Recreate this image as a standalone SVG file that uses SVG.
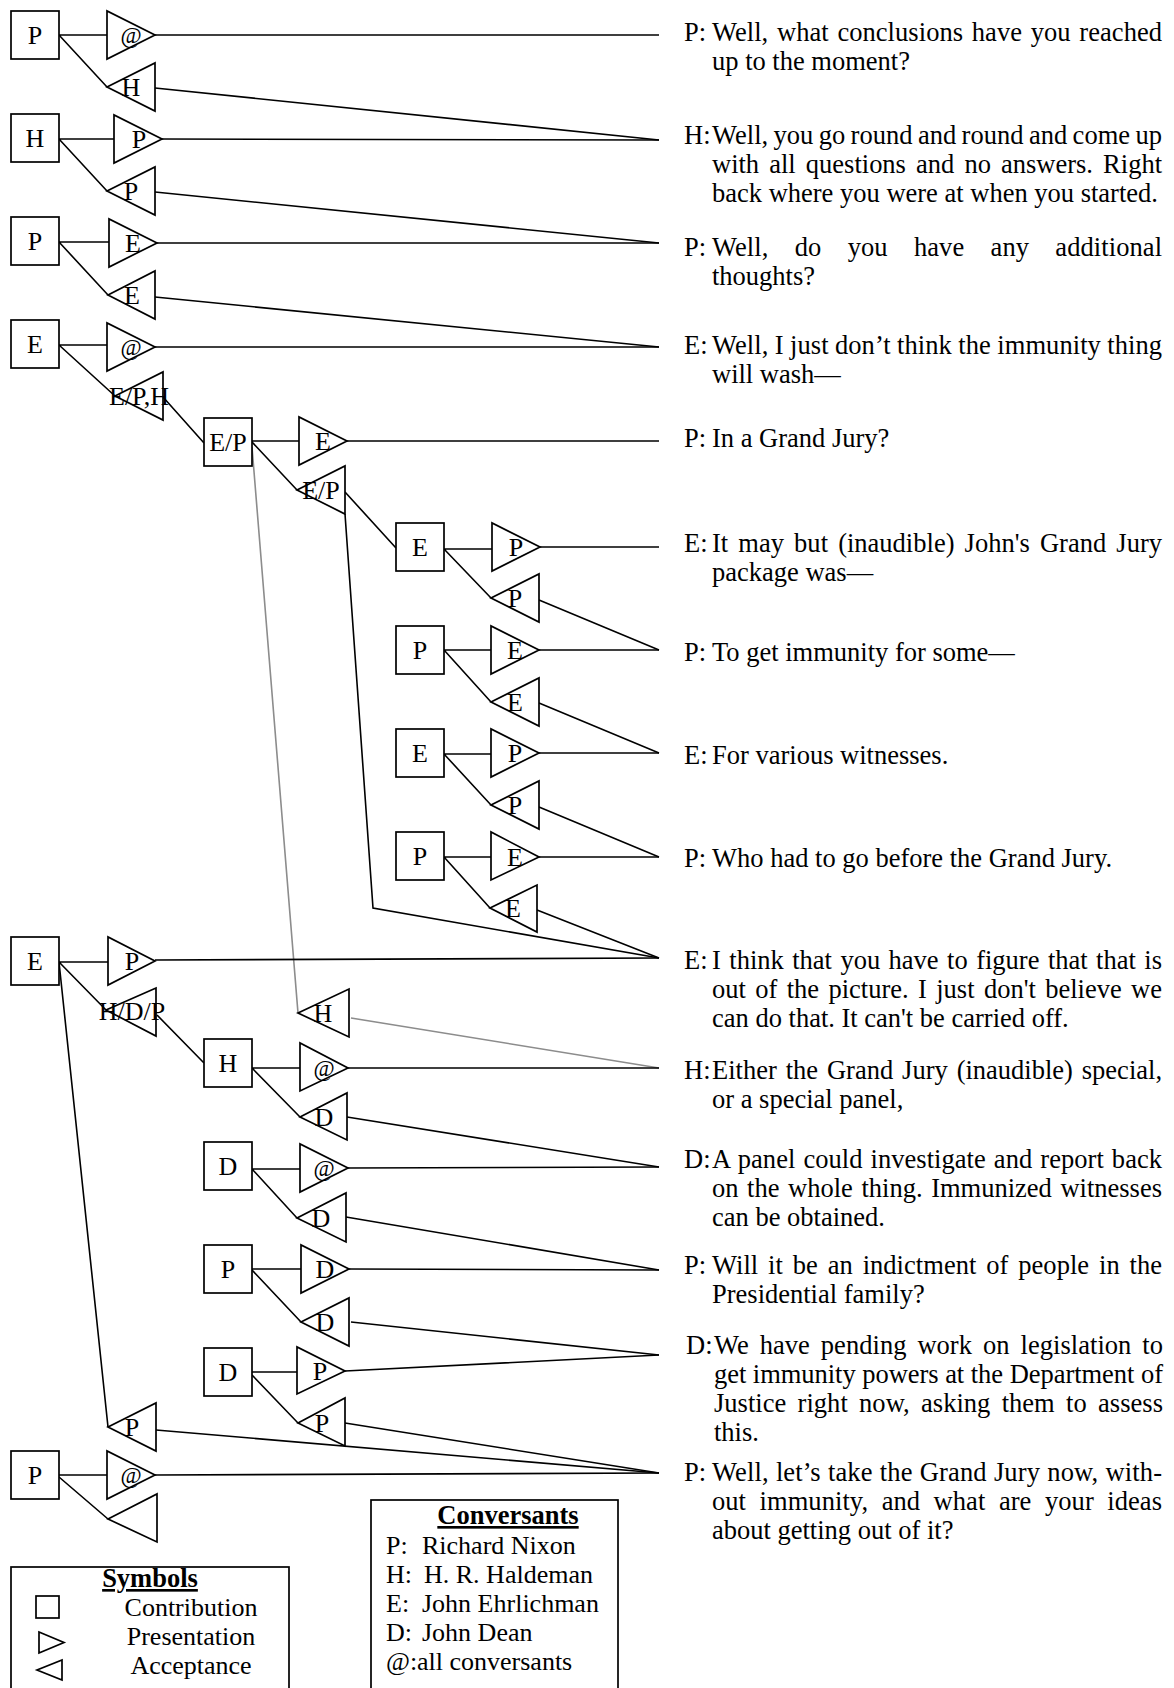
<svg xmlns="http://www.w3.org/2000/svg" width="1174" height="1688" viewBox="0 0 1174 1688">
<style>
.bg{fill:#fff}
.box,.tri{fill:#fff;stroke:#000;stroke-width:1.7}
.ln{fill:none;stroke:#000;stroke-width:1.6}
.gr{fill:none;stroke:#8c8c8c;stroke-width:1.6}
.lb{font-family:"Liberation Serif","Times New Roman",serif;font-size:26px;text-anchor:middle;fill:#000}
.at{font-family:"Liberation Serif","Times New Roman",serif;font-size:23px;text-anchor:middle;fill:#000}
.tx{font-family:"Liberation Serif","Times New Roman",serif;font-size:26.5px;fill:#000}
.lg{font-family:"Liberation Serif","Times New Roman",serif;font-size:26px;fill:#000}
.hd{font-family:"Liberation Serif","Times New Roman",serif;font-size:26.5px;font-weight:bold;text-anchor:middle;text-decoration:underline;fill:#000}
</style>
<rect class="bg" x="0" y="0" width="1174" height="1688"/>

<g id="connectors">
<path class="ln" d="M59 35H107M59 35L107 87M155 35L659 35M155 88L659 140"/>
<path class="ln" d="M59 139H114M59 139L107 191M162 139L659 140M155 192L659 243"/>
<path class="ln" d="M59 242H109M59 242L108 295M157 243L659 243M155 297L659 347"/>
<path class="ln" d="M59 345H107M59 345L115 396M155 347L659 347M163 397L204 443"/>
<path class="ln" d="M252 441H299M252 442L297 490M347 441L659 441M345 492L396 548M345 514L373 908L659 958"/>
<path class="gr" d="M252 447L298 1013M351 1018L659 1068"/>
<path class="ln" d="M444 549H492M444 549L491 598M540 547L659 547M539 600L659 650"/>
<path class="ln" d="M444 650H491M444 650L491 702M539 650L659 650M539 703L659 753"/>
<path class="ln" d="M444 754H491M444 754L491 805M539 753L659 753M539 807L659 857"/>
<path class="ln" d="M444 857H491M444 857L490 908M539 857L659 857M537 910L659 958"/>
<path class="ln" d="M59 962H108M59 962L106 1010M59 962L108 1427M155 960L659 958M157 1015L204 1063M156 1430L659 1473"/>
<path class="ln" d="M252 1068H300M252 1068L300 1117M348 1068L659 1068M347 1117L659 1167"/>
<path class="ln" d="M252 1169H300M252 1169L297 1218M348 1168L659 1167M346 1217L659 1270"/>
<path class="ln" d="M252 1269H301M252 1270L301 1322M349 1269L659 1270M351 1322L659 1355"/>
<path class="ln" d="M252 1372H297M252 1375L298 1423M345 1371L659 1355M345 1423L659 1473"/>
<path class="ln" d="M59 1475H107M59 1477L108 1519M155 1475L659 1473"/>
</g>

<g id="n-P1">
<rect class="box" x="11" y="11" width="48" height="48"/><text class="lb" x="35" y="44">P</text>
<polygon class="tri" points="107,11 107,59 155,35"/><text class="at" x="131" y="43">@</text>
<polygon class="tri" points="107,87 155,63 155,111"/><text class="lb" x="131" y="96">H</text>
</g>
<g id="n-H1">
<rect class="box" x="11" y="114" width="48" height="48"/><text class="lb" x="35" y="147">H</text>
<polygon class="tri" points="114,115 114,163 162,139"/><text class="lb" x="139" y="148">P</text>
<polygon class="tri" points="107,191 155,167 155,215"/><text class="lb" x="131" y="200">P</text>
</g>
<g id="n-P2">
<rect class="box" x="11" y="217" width="48" height="48"/><text class="lb" x="35" y="250">P</text>
<polygon class="tri" points="109,219 109,267 157,243"/><text class="lb" x="133" y="252">E</text>
<polygon class="tri" points="108,295 155,271 155,319"/><text class="lb" x="132" y="304">E</text>
</g>
<g id="n-E1">
<rect class="box" x="11" y="320" width="48" height="48"/><text class="lb" x="35" y="353">E</text>
<polygon class="tri" points="107,323 107,371 155,347"/><text class="at" x="131" y="355">@</text>
<polygon class="tri" points="115,396 163,372 163,420"/><text class="lb" x="139" y="405">E/P,H</text>
</g>
<g id="n-EP">
<rect class="box" x="204" y="418" width="48" height="48"/><text class="lb" x="228" y="451">E/P</text>
<polygon class="tri" points="299,417 299,465 347,441"/><text class="lb" x="323" y="450">E</text>
<polygon class="tri" points="297,490 345,466 345,514"/><text class="lb" x="321" y="499">E/P</text>
</g>
<g id="n-E3">
<rect class="box" x="396" y="523" width="48" height="48"/><text class="lb" x="420" y="556">E</text>
<polygon class="tri" points="492,523 492,571 540,547"/><text class="lb" x="516" y="556">P</text>
<polygon class="tri" points="491,598 539,574 539,622"/><text class="lb" x="515" y="607">P</text>
</g>
<g id="n-P3">
<rect class="box" x="396" y="626" width="48" height="48"/><text class="lb" x="420" y="659">P</text>
<polygon class="tri" points="491,626 491,674 539,650"/><text class="lb" x="515" y="659">E</text>
<polygon class="tri" points="491,702 539,678 539,726"/><text class="lb" x="515" y="711">E</text>
</g>
<g id="n-E4">
<rect class="box" x="396" y="729" width="48" height="48"/><text class="lb" x="420" y="762">E</text>
<polygon class="tri" points="491,729 491,777 539,753"/><text class="lb" x="515" y="762">P</text>
<polygon class="tri" points="491,805 539,781 539,829"/><text class="lb" x="515" y="814">P</text>
</g>
<g id="n-P4">
<rect class="box" x="396" y="832" width="48" height="48"/><text class="lb" x="420" y="865">P</text>
<polygon class="tri" points="491,832 491,880 539,857"/><text class="lb" x="515" y="866">E</text>
<polygon class="tri" points="490,908 537,885 537,932"/><text class="lb" x="513" y="917">E</text>
</g>
<g id="n-E2">
<rect class="box" x="11" y="937" width="48" height="48"/><text class="lb" x="35" y="970">E</text>
<polygon class="tri" points="108,937 108,985 155,961"/><text class="lb" x="132" y="970">P</text>
<polygon class="tri" points="106,1010 156,988 156,1036"/><text class="lb" x="132" y="1020">H/D/P</text>
</g>
<g id="n-accP">
<polygon class="tri" points="108,1427 156,1403 156,1451"/><text class="lb" x="132" y="1436">P</text>
</g>
<g id="n-accH">
<polygon class="tri" points="298,1013 349,989 349,1037"/><text class="lb" x="323" y="1022">H</text>
</g>
<g id="n-H2">
<rect class="box" x="204" y="1039" width="48" height="48"/><text class="lb" x="228" y="1072">H</text>
<polygon class="tri" points="300,1043 300,1091 348,1068"/><text class="at" x="324" y="1076">@</text>
<polygon class="tri" points="300,1117 347,1093 347,1140"/><text class="lb" x="324" y="1126">D</text>
</g>
<g id="n-D1">
<rect class="box" x="204" y="1142" width="48" height="48"/><text class="lb" x="228" y="1175">D</text>
<polygon class="tri" points="300,1144 300,1192 348,1168"/><text class="at" x="324" y="1176">@</text>
<polygon class="tri" points="297,1218 346,1193 346,1242"/><text class="lb" x="321" y="1227">D</text>
</g>
<g id="n-P5">
<rect class="box" x="204" y="1245" width="48" height="48"/><text class="lb" x="228" y="1278">P</text>
<polygon class="tri" points="301,1245 301,1293 349,1269"/><text class="lb" x="325" y="1278">D</text>
<polygon class="tri" points="301,1322 349,1298 349,1346"/><text class="lb" x="325" y="1331">D</text>
</g>
<g id="n-D2">
<rect class="box" x="204" y="1348" width="48" height="48"/><text class="lb" x="228" y="1381">D</text>
<polygon class="tri" points="297,1347 297,1394 345,1371"/><text class="lb" x="320" y="1380">P</text>
<polygon class="tri" points="298,1423 345,1398 345,1446"/><text class="lb" x="322" y="1432">P</text>
</g>
<g id="n-P6">
<rect class="box" x="11" y="1451" width="48" height="48"/><text class="lb" x="35" y="1484">P</text>
<polygon class="tri" points="107,1451 107,1499 155,1475"/><text class="at" x="131" y="1483">@</text>
<polygon class="tri" points="108,1519 157,1494 157,1542"/>
</g>

<g id="transcript" transform="translate(0,2)">
<g id="u1"><text class="tx" x="684" y="39">P:</text>
<text class="tx" x="712" y="39" word-spacing="2" textLength="450" lengthAdjust="spacing">Well, what conclusions have you reached</text>
<text class="tx" x="712" y="68">up to the moment?</text></g>
<g id="u2"><text class="tx" x="684" y="142">H:</text>
<text class="tx" x="712" y="142" word-spacing="-1.4" textLength="450" lengthAdjust="spacing">Well, you go round and round and come up</text>
<text class="tx" x="712" y="171" word-spacing="3.5" textLength="450" lengthAdjust="spacing">with all questions and no answers. Right</text>
<text class="tx" x="712" y="200">back where you were at when you started.</text></g>
<g id="u3"><text class="tx" x="684" y="254">P:</text>
<text class="tx" x="712" y="254" word-spacing="19.6" textLength="450" lengthAdjust="spacing">Well, do you have any additional</text>
<text class="tx" x="712" y="283">thoughts?</text></g>
<g id="u4"><text class="tx" x="684" y="352">E:</text>
<text class="tx" x="712" y="352" word-spacing="-0.3" textLength="450" lengthAdjust="spacing">Well, I just don’t think the immunity thing</text>
<text class="tx" x="712" y="381">will wash—</text></g>
<g id="u5"><text class="tx" x="684" y="445">P:</text>
<text class="tx" x="712" y="445">In a Grand Jury?</text></g>
<g id="u6"><text class="tx" x="684" y="550">E:</text>
<text class="tx" x="712" y="550" word-spacing="3.5" textLength="450" lengthAdjust="spacing">It may but (inaudible) John's Grand Jury</text>
<text class="tx" x="712" y="579">package was—</text></g>
<g id="u7"><text class="tx" x="684" y="659">P:</text>
<text class="tx" x="712" y="659">To get immunity for some—</text></g>
<g id="u8"><text class="tx" x="684" y="762">E:</text>
<text class="tx" x="712" y="762">For various witnesses.</text></g>
<g id="u9"><text class="tx" x="684" y="865">P:</text>
<text class="tx" x="712" y="865">Who had to go before the Grand Jury.</text></g>
<g id="u10"><text class="tx" x="684" y="967">E:</text>
<text class="tx" x="712" y="967" word-spacing="1.8" textLength="450" lengthAdjust="spacing">I think that you have to figure that that is</text>
<text class="tx" x="712" y="996" word-spacing="2.7" textLength="450" lengthAdjust="spacing">out of the picture. I just don't believe we</text>
<text class="tx" x="712" y="1025">can do that. It can't be carried off.</text></g>
<g id="u11"><text class="tx" x="684" y="1077">H:</text>
<text class="tx" x="712" y="1077" word-spacing="2.3" textLength="450" lengthAdjust="spacing">Either the Grand Jury (inaudible) special,</text>
<text class="tx" x="712" y="1106">or a special panel,</text></g>
<g id="u12"><text class="tx" x="684" y="1166">D:</text>
<text class="tx" x="712" y="1166" word-spacing="1.4" textLength="450" lengthAdjust="spacing">A panel could investigate and report back</text>
<text class="tx" x="712" y="1195" word-spacing="2" textLength="450" lengthAdjust="spacing">on the whole thing. Immunized witnesses</text>
<text class="tx" x="712" y="1224">can be obtained.</text></g>
<g id="u13"><text class="tx" x="684" y="1272">P:</text>
<text class="tx" x="712" y="1272" word-spacing="3.2" textLength="450" lengthAdjust="spacing">Will it be an indictment of people in the</text>
<text class="tx" x="712" y="1301">Presidential family?</text></g>
<g id="u14"><text class="tx" x="686" y="1352">D:</text>
<text class="tx" x="714" y="1352" word-spacing="4.3" textLength="449" lengthAdjust="spacing">We have pending work on legislation to</text>
<text class="tx" x="714" y="1381" word-spacing="0" textLength="449" lengthAdjust="spacing">get immunity powers at the Department of</text>
<text class="tx" x="714" y="1410" word-spacing="4.7" textLength="449" lengthAdjust="spacing">Justice right now, asking them to assess</text>
<text class="tx" x="714" y="1439">this.</text></g>
<g id="u15"><text class="tx" x="684" y="1479">P:</text>
<text class="tx" x="712" y="1479" word-spacing="0.5" textLength="450" lengthAdjust="spacing">Well, let’s take the Grand Jury now, with-</text>
<text class="tx" x="712" y="1508" word-spacing="6.9" textLength="450" lengthAdjust="spacing">out immunity, and what are your ideas</text>
<text class="tx" x="712" y="1537">about getting out of it?</text></g>
</g>

<g id="legend-symbols">
<rect class="box" x="11" y="1567" width="278" height="140"/>
<text class="hd" x="150" y="1587">Symbols</text>
<rect class="box" x="36" y="1596" width="23" height="22"/>
<polygon class="tri" points="39,1632 39,1653 64,1642.5"/>
<polygon class="tri" points="62,1660 62,1680 37,1670"/>
<text class="lg" x="191" y="1616" text-anchor="middle">Contribution</text>
<text class="lg" x="191" y="1645" text-anchor="middle">Presentation</text>
<text class="lg" x="191" y="1674" text-anchor="middle">Acceptance</text>
</g>
<g id="legend-conversants">
<rect class="box" x="371" y="1500" width="247" height="210"/>
<text class="hd" x="508" y="1524">Conversants</text>
<text class="lg" x="386" y="1554">P:</text><text class="lg" x="422" y="1554">Richard Nixon</text>
<text class="lg" x="386" y="1583">H:</text><text class="lg" x="424" y="1583">H. R. Haldeman</text>
<text class="lg" x="386" y="1612">E:</text><text class="lg" x="422" y="1612">John Ehrlichman</text>
<text class="lg" x="386" y="1641">D:</text><text class="lg" x="422" y="1641">John Dean</text>
<text class="lg" x="386" y="1670" font-size="21">@:</text><text class="lg" x="417" y="1670">all conversants</text>
</g>
</svg>
